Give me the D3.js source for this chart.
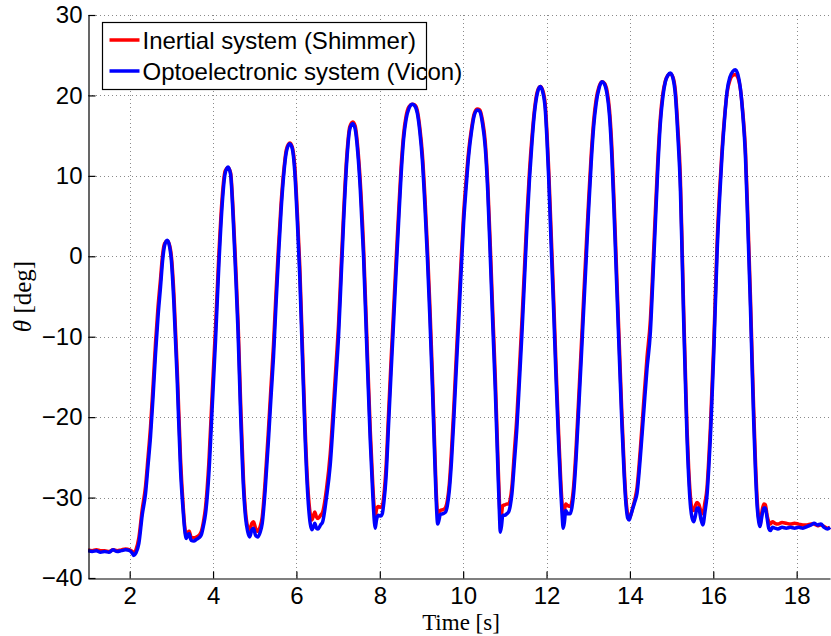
<!DOCTYPE html>
<html>
<head>
<meta charset="utf-8">
<script src="https://cdn.jsdelivr.net/npm/d3@7"></script>
<style>
  html, body { margin: 0; padding: 0; background: #fff; }
  svg { display: block; }
  .tick text { font-family: "Liberation Sans", Arial, sans-serif; font-size: 24px; fill: #000; }
</style>
</head>
<body>
<div id="chart"></div>
<script>
// Time stamps [s], shared by both recordings (split per oscillation)
const timeS = [].concat(
  [1.00,1.10,1.20,1.30,1.40,1.50,1.60,1.70,1.80,1.90,2.00,2.06,2.10,2.15],
  [2.22,2.30,2.38,2.44,2.50,2.56,2.62,2.68,2.74,2.79,2.84,2.90,2.95,3.00,3.06,3.14,3.22,3.28,3.32,3.36,3.40,3.43,3.47,3.54,3.60,3.66,3.72,3.77],
  [3.82,3.90,3.98,4.06,4.14,4.22,4.29,4.36,4.42,4.48,4.54,4.60,4.66,4.73,4.78,4.83,4.88,4.93,4.97,5.02,5.07,5.13,5.18],
  [5.25,5.33,5.39,5.45,5.51,5.57,5.63,5.69,5.76,5.84,5.90,5.96,6.02,6.08,6.14,6.21,6.27,6.33,6.37,6.41,6.44,6.48,6.52,6.58,6.63],
  [6.72,6.81,6.89,6.95,7.01,7.07,7.13,7.21,7.28,7.35,7.41,7.47,7.53,7.61,7.69,7.77,7.83,7.87,7.89,7.92,7.96,8.02,8.06],
  [8.10,8.15,8.21,8.27,8.33,8.39,8.45,8.51,8.57,8.63,8.70,8.78,8.84,8.90,8.96,9.02,9.08,9.14,9.20,9.26,9.31,9.35,9.39,9.42,9.45,9.52,9.58,9.62],
  [9.67,9.72,9.77,9.83,9.89,9.95,10.01,10.07,10.13,10.20,10.27,10.34,10.40,10.46,10.53,10.59,10.65,10.71,10.77,10.83,10.87,10.89,10.92,10.95,11.00,11.05,11.09,11.13],
  [11.17,11.23,11.29,11.35,11.41,11.47,11.53,11.59,11.65,11.71,11.78,11.85,11.91,11.97,12.01,12.05,12.11,12.17,12.23,12.29,12.34,12.37,12.40,12.43,12.46,12.51,12.57,12.61],
  [12.65,12.71,12.77,12.83,12.89,12.95,13.01,13.07,13.13,13.19,13.26,13.33,13.39,13.45,13.51,13.57,13.63,13.69,13.75,13.81,13.86,13.90,13.95,13.98,14.02,14.06,14.12],
  [14.17,14.25,14.33,14.41,14.49,14.55,14.61,14.67,14.73,14.79,14.85,14.91,14.97,15.03,15.09,15.15,15.21,15.25,15.29,15.33,15.37,15.41,15.45,15.49,15.53,15.57,15.61,15.65,15.70,15.75,15.80,15.85],
  [15.89,15.93,15.97,16.01,16.05,16.09,16.15,16.21,16.27,16.33,16.40,16.47,16.53,16.59,16.65,16.71,16.77,16.83,16.89,16.93,16.97,17.01,17.05,17.09,17.12,17.16,17.21,17.25,17.29,17.33,17.37,17.42,17.48,17.55,17.65,17.75,17.85,17.95,18.05,18.15,18.25,18.35,18.42,18.50,18.58,18.66,18.74,18.80]
);

// Inertial system (Shimmer) angle [deg]
const shimmerDeg = [].concat(
  [-36.5,-36.6,-36.5,-36.6,-36.6,-36.7,-36.5,-36.6,-36.5,-36.4,-36.5,-36.7,-36.9,-36.5],
  [-35.0,-31.5,-28.6,-25.0,-21.2,-16.2,-10.8,-6.3,-2.8,0.2,1.6,1.9,1.5,0.0,-4.6,-14.0,-25.2,-30.8,-33.6,-34.8,-34.3,-34.2,-34.9,-35.0,-34.9,-34.7,-34.2,-33.0],
  [-31.2,-25.6,-17.0,-8.8,0.3,7.4,10.6,11.0,10.4,5.8,-0.8,-8.2,-18.0,-27.8,-31.8,-33.6,-34.0,-33.2,-33.0,-33.8,-34.2,-33.6,-32.4],
  [-28.0,-21.5,-16.2,-11.0,-4.6,1.2,6.4,10.3,13.3,14.1,13.6,11.2,5.6,-1.2,-10.6,-21.5,-28.4,-32.0,-32.8,-32.2,-31.8,-32.4,-32.6,-32.2,-31.8],
  [-29.0,-24.6,-18.4,-13.5,-8.5,-1.6,5.2,12.6,16.1,16.7,16.2,13.6,9.4,1.2,-10.2,-21.5,-28.2,-31.6,-32.4,-31.5,-31.1,-31.2,-31.0],
  [-29.6,-26.2,-19.6,-13.0,-6.8,-0.6,5.3,11.0,15.1,17.4,18.6,18.9,18.8,18.1,16.0,12.8,7.6,1.3,-6.0,-14.5,-22.6,-28.8,-32.0,-31.8,-31.6,-31.5,-31.2,-30.4],
  [-28.2,-24.2,-19.4,-13.0,-6.8,-0.6,5.2,9.4,13.0,15.9,17.8,18.3,18.2,17.0,14.2,9.0,1.4,-7.0,-15.0,-24.6,-30.6,-32.6,-32.0,-31.0,-30.9,-30.8,-30.8,-30.2],
  [-28.6,-24.2,-19.8,-14.0,-8.0,-1.6,5.0,10.5,14.8,18.2,20.5,21.1,20.6,18.8,15.4,11.0,3.0,-5.2,-14.0,-22.0,-27.8,-30.6,-32.4,-31.6,-30.8,-31.0,-31.1,-30.4],
  [-28.6,-23.8,-17.8,-11.6,-5.2,1.0,7.0,12.5,16.8,19.5,21.1,21.7,21.5,20.6,18.2,13.2,5.4,-3.2,-11.6,-20.0,-26.0,-29.8,-32.2,-32.6,-32.2,-31.4,-30.2],
  [-28.8,-24.0,-18.2,-12.6,-8.0,-1.6,5.4,12.0,17.2,20.2,21.8,22.5,22.7,22.3,20.6,16.0,9.8,1.8,-6.8,-14.2,-21.4,-26.4,-29.8,-31.4,-31.6,-31.0,-30.6,-30.8,-31.6,-32.0,-30.6,-28.8],
  [-25.4,-21.4,-16.2,-11.0,-4.8,1.4,8.0,13.2,17.3,20.3,21.9,22.5,22.6,22.2,20.8,17.8,13.4,4.8,-4.8,-12.2,-19.2,-25.2,-30.0,-32.6,-33.4,-32.0,-30.8,-30.9,-32.2,-33.0,-33.3,-33.0,-33.2,-33.3,-33.1,-33.2,-33.3,-33.2,-33.3,-33.4,-33.4,-33.3,-33.3,-33.5,-33.4,-33.6,-33.8,-33.7]
);

// Optoelectronic system (Vicon) angle [deg]
const viconDeg = [].concat(
  [-36.6,-36.7,-36.6,-36.8,-36.7,-36.8,-36.5,-36.7,-36.6,-36.5,-36.6,-36.9,-37.2,-36.9],
  [-35.7,-32.2,-29.5,-26.0,-22.4,-17.5,-12.1,-7.5,-3.8,-0.5,1.4,2.0,1.4,-0.5,-5.8,-15.4,-26.6,-31.5,-34.0,-35.1,-34.6,-34.5,-35.3,-35.4,-35.2,-35.0,-34.6,-33.5],
  [-32.0,-27.0,-18.7,-10.4,-1.0,6.5,10.3,11.1,10.2,5.0,-2.0,-9.5,-19.5,-28.8,-32.5,-34.2,-34.9,-34.0,-33.8,-34.7,-34.9,-34.3,-33.2],
  [-29.1,-22.8,-17.5,-12.5,-6.0,0.0,5.5,9.8,13.0,14.0,13.4,10.5,4.5,-2.5,-12.0,-22.8,-29.5,-33.2,-34.0,-33.6,-33.2,-33.8,-33.9,-33.4,-33.0],
  [-30.0,-26.0,-19.9,-15.0,-10.0,-3.0,4.1,12.0,15.8,16.5,15.8,13.0,8.5,0.0,-11.7,-22.8,-29.5,-33.0,-33.8,-32.8,-32.2,-32.3,-32.0],
  [-30.5,-27.5,-21.0,-14.5,-8.3,-2.0,4.1,10.0,14.5,17.0,18.4,18.9,18.7,17.8,15.5,12.0,6.5,0.0,-7.5,-16.0,-24.0,-30.0,-33.3,-32.8,-32.1,-32.0,-31.8,-31.0],
  [-29.0,-25.5,-20.8,-14.5,-8.3,-2.0,4.1,8.5,12.4,15.5,17.6,18.2,18.0,16.6,13.5,8.0,0.0,-8.5,-16.6,-26.0,-32.0,-34.3,-33.5,-32.2,-32.2,-32.0,-31.8,-31.0],
  [-29.5,-25.5,-21.2,-15.5,-9.6,-3.0,3.7,9.5,14.1,17.8,20.3,21.1,20.4,18.2,14.5,9.9,1.5,-6.7,-15.5,-23.3,-29.0,-31.8,-33.8,-33.0,-31.6,-32.0,-32.0,-31.2],
  [-29.5,-25.0,-19.1,-13.0,-6.7,-0.5,5.8,11.5,16.1,19.0,20.9,21.7,21.4,20.2,17.5,12.0,4.0,-4.6,-13.0,-21.2,-27.0,-30.5,-32.6,-32.8,-32.2,-31.5,-30.5],
  [-29.5,-25.0,-19.5,-14.0,-9.5,-3.0,4.0,11.0,16.5,19.8,21.7,22.5,22.8,22.2,20.1,15.0,8.5,0.5,-8.1,-15.5,-22.6,-27.5,-30.9,-32.5,-33.0,-32.3,-31.3,-31.3,-32.6,-33.4,-31.8,-29.7],
  [-26.5,-22.6,-17.5,-12.3,-6.0,0.2,7.0,12.6,17.0,20.5,22.3,23.0,23.2,22.6,20.9,17.5,12.6,3.5,-6.1,-13.5,-20.6,-26.5,-30.9,-33.0,-33.6,-32.5,-31.3,-31.3,-32.5,-33.8,-34.1,-33.7,-33.8,-33.9,-33.7,-33.8,-33.7,-33.8,-33.7,-33.8,-33.6,-33.4,-33.2,-33.4,-33.3,-33.7,-33.9,-33.7]
);

const seriesNames = ['Inertial system (Shimmer)', 'Optoelectronic system (Vicon)'];
const seriesColors = ['#ff0000', '#0000ff'];
const xTicks = [2, 4, 6, 8, 10, 12, 14, 16, 18];
const yTicks = [-40, -30, -20, -10, 0, 10, 20, 30];

let
w = 831, h = 636,
padL = 88, padR = 830, padT = 15, padB = 578,
lineW = 3.5,

xScale = d3.scaleLinear().domain([1, 18.8]).range([padL, padR]),
yScale = d3.scaleLinear().domain([-40, 30]).range([padB, padT]),

svg = d3.select('#chart').append('svg').attr('width', w).attr('height', h);

// Dotted grid
let grid = svg.append('g').attr('stroke', '#8a8a8a').attr('stroke-width', 1).attr('stroke-dasharray', '1,3');
grid.selectAll('.vg').data(xTicks).enter().append('line')
  .attr('x1', d => Math.round(xScale(d)) + 0.5).attr('x2', d => Math.round(xScale(d)) + 0.5)
  .attr('y1', padT).attr('y2', padB);
grid.selectAll('.hg').data(yTicks.filter(d => d > -40)).enter().append('line')
  .attr('y1', d => Math.round(yScale(d)) + 0.5).attr('y2', d => Math.round(yScale(d)) + 0.5)
  .attr('x1', padL).attr('x2', padR);

// Build the two series from the arrays
let n = Math.min(timeS.length, shimmerDeg.length, viconDeg.length);
let series = [shimmerDeg, viconDeg].map((vals, k) => ({
  name: seriesNames[k], color: seriesColors[k],
  pts: d3.range(n).map(i => [timeS[i], vals[i]])
}));

let line = d3.line().x(d => xScale(d[0])).y(d => yScale(d[1])).curve(d3.curveMonotoneX);

svg.append('defs').append('clipPath').attr('id', 'clip')
  .append('rect').attr('x', padL).attr('y', padT - 5).attr('width', padR - padL + 2).attr('height', padB - padT + 5);

svg.append('g').attr('clip-path', 'url(#clip)')
  .selectAll('path').data(series).enter().append('path')
  .attr('d', d => line(d.pts))
  .attr('fill', 'none')
  .attr('stroke', d => d.color)
  .attr('stroke-width', lineW)
  .attr('stroke-linejoin', 'round');

// Axes with inward ticks
let xAxis = d3.axisBottom(xScale).tickValues(xTicks).tickSizeInner(-7).tickSizeOuter(0).tickPadding(8)
  .tickFormat(d3.format('d'));
let yAxis = d3.axisLeft(yScale).tickValues(yTicks).tickSizeInner(-7).tickSizeOuter(0).tickPadding(6)
  .tickFormat(d => d < 0 ? '\u2212' + Math.abs(d) : d);

svg.append('g').attr('transform', 'translate(0,' + (padB + 0.5) + ')').call(xAxis)
  .call(g => g.selectAll('path, line').attr('stroke', '#000').attr('stroke-width', 1.2));
svg.append('g').attr('transform', 'translate(' + (padL + 0.5) + ',0)').call(yAxis)
  .call(g => g.selectAll('path, line').attr('stroke', '#000').attr('stroke-width', 1.2));

// Axis labels
svg.append('text')
  .attr('x', (padL + padR) / 2 + 2).attr('y', 630)
  .attr('text-anchor', 'middle')
  .attr('font-family', '"Liberation Serif", "DejaVu Serif", serif')
  .attr('font-size', 23)
  .text('Time [s]');

let yl = svg.append('text')
  .attr('transform', 'translate(31,' + ((padT + padB) / 2) + ') rotate(-90)')
  .attr('text-anchor', 'middle')
  .attr('font-family', '"Liberation Serif", "DejaVu Serif", serif')
  .attr('font-size', 25);
yl.append('tspan').attr('font-style', 'italic').text('\u03b8');
yl.append('tspan').text(' [deg]');

// Legend
let legend = svg.append('g').attr('transform', 'translate(102.5,22.5)');
legend.append('rect').attr('width', 324).attr('height', 67)
  .attr('fill', '#fff').attr('stroke', '#000').attr('stroke-width', 1.2);
let items = legend.selectAll('.item').data(series).enter().append('g')
  .attr('transform', (d, i) => 'translate(0,' + (17.5 + i * 31) + ')');
items.append('line').attr('x1', 7).attr('x2', 37)
  .attr('stroke', d => d.color).attr('stroke-width', lineW);
items.append('text').attr('x', 40).attr('y', 8.5)
  .attr('font-family', '"Liberation Sans", Arial, sans-serif').attr('font-size', 24)
  .text(d => d.name);
</script>
</body>
</html>
